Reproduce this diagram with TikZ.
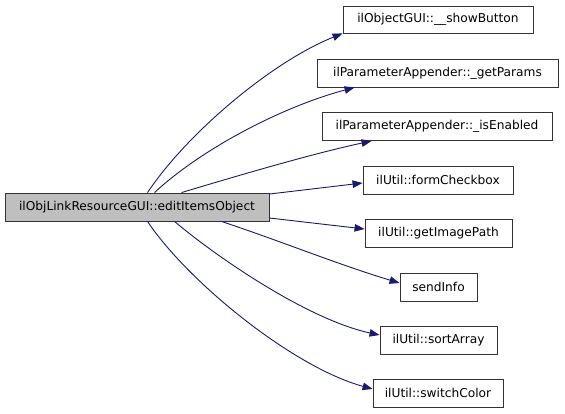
\documentclass[tikz,border=0pt]{standalone}
\usepackage{fontspec}
\setmainfont{DejaVu Sans}
\usetikzlibrary{arrows.meta}
\definecolor{edgeblue}{HTML}{191970}
\definecolor{mainfill}{HTML}{BFBFBF}
\tikzset{
  box/.style={draw=black!80, line width=0.9pt, fill=white, inner sep=0pt, minimum height=28pt, font=\fontsize{12.2}{14}\selectfont, anchor=center},
  mainbox/.style={box, fill=mainfill},
  edge/.style={draw=edgeblue, line width=0.9pt, -{Triangle[length=10pt,width=7.5pt]}},
}
\begin{document}
\begin{tikzpicture}[x=1pt,y=-1pt]
\useasboundingbox (0,0) rectangle (565,413);
\node[mainbox, minimum width=264pt] (main) at (137,207) {ilObjLinkResourceGUI::editItemsObject};
\node[box, minimum width=190pt, minimum height=27pt] (sb) at (438,19.5) {ilObjectGUI::\_\_showButton};
\node[box, minimum width=241pt] (gp) at (437.5,73) {ilParameterAppender::\_getParams};
\node[box, minimum width=230pt] (ie) at (437,126.5) {ilParameterAppender::\_isEnabled};
\node[box, minimum width=150pt] (fc) at (438,180) {ilUtil::formCheckbox};
\node[box, minimum width=147pt] (gi) at (438.5,233) {ilUtil::getImagePath};
\node[box, minimum width=77pt] (si) at (438.5,287) {sendInfo};
\node[box, minimum width=117pt] (sa) at (438.5,340) {ilUtil::sortArray};
\node[box, minimum width=130pt] (sc) at (438,393) {ilUtil::switchColor};

\draw[edge] ([xshift=143pt]main.north west) .. controls +(40,-60) and +(-70,28) .. (sb.south west);
\draw[edge] ([xshift=150pt]main.north west) .. controls +(45,-42) and +(-75,20) .. ([xshift=38pt]gp.south west);
\draw[edge] ([xshift=177pt]main.north west) .. controls +(60,-18) and +(-60,13) .. ([xshift=50pt]ie.south west);
\draw[edge] ([yshift=13pt]main.east) -- ([yshift=-3pt]fc.west);
\draw[edge] ([yshift=-11pt]main.east) -- ([yshift=4pt]gi.west);
\draw[edge] ([xshift=217pt]main.south west) .. controls +(60,20) and +(-60,-18) .. ([yshift=4pt]si.west);
\draw[edge] ([xshift=170pt]main.south west) .. controls +(45,38) and +(-70,-15) .. ([yshift=5pt]sa.west);
\draw[edge] ([xshift=143pt]main.south west) .. controls +(40,60) and +(-80,-22) .. ([yshift=4pt]sc.west);
\end{tikzpicture}
\end{document}
